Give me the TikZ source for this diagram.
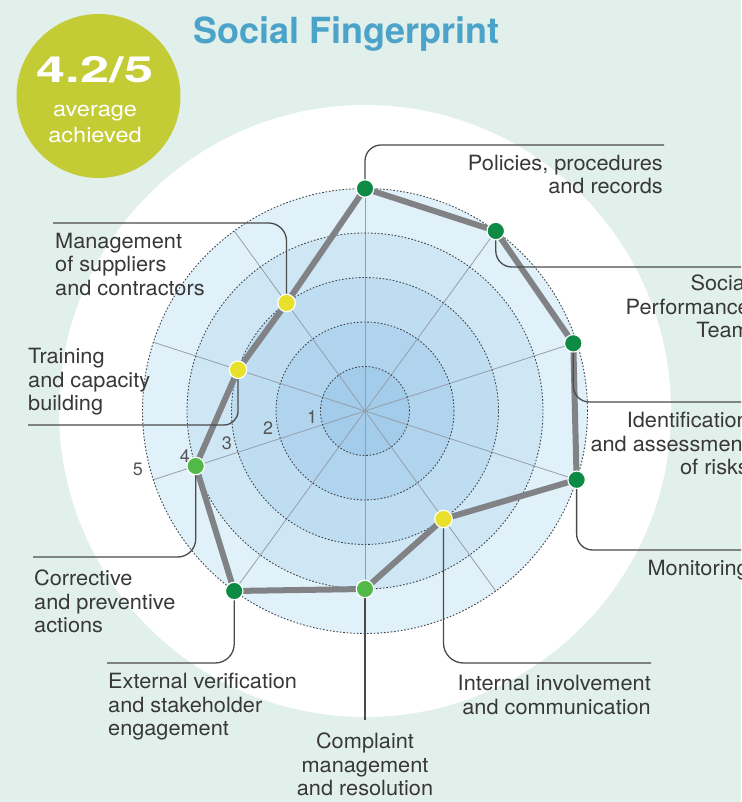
\documentclass[tikz,border=0pt]{standalone}
\usepackage{fontspec}
\usepackage{graphicx}
\setmainfont{TeX Gyre Heros}
\newfontfamily\lblfont[FakeStretch=1.035]{TeX Gyre Heros}
\usetikzlibrary{calc}
\definecolor{bgc}{HTML}{E2F0EB}
\definecolor{bandA}{HTML}{E0F1F9}
\definecolor{bandB}{HTML}{CFE6F5}
\definecolor{bandC}{HTML}{BFDDF1}
\definecolor{bandD}{HTML}{B1D4EE}
\definecolor{bandE}{HTML}{A3CBEA}
\definecolor{spokec}{HTML}{939FAA}
\definecolor{ringc}{HTML}{3F444A}
\definecolor{polyc}{HTML}{818286}
\definecolor{gdark}{HTML}{0D8A43}
\definecolor{glight}{HTML}{52B848}
\definecolor{gyel}{HTML}{E8E02A}
\definecolor{leadc}{HTML}{4A4A4A}
\definecolor{txtc}{HTML}{383838}
\definecolor{titlec}{HTML}{4BA3C9}
\definecolor{badgec}{HTML}{C3CB35}
\definecolor{numc}{HTML}{555555}
\begin{document}
\begin{tikzpicture}[x=1pt,y=1pt,
  spoke/.style={draw=spokec,line width=0.8pt},
  ringline/.style={draw=ringc,line width=0.9pt,dash pattern=on 1.6pt off 1.8pt},
  poly/.style={draw=polyc,line width=6pt,line join=round},
  mk/.style={circle,draw=white,line width=1.2pt,minimum size=17.5pt,inner sep=0pt},
  lead/.style={draw=leadc,line width=1.3pt,rounded corners=16pt},
  lbl/.style={text=txtc,inner sep=0pt,font=\lblfont\fontsize{21}{23.5}\selectfont},
  num/.style={text=numc,inner sep=0pt,font=\fontsize{18}{18}\selectfont}]
\useasboundingbox (0,0) rectangle (741,802);
\clip (0,0) rectangle (741,802);
\fill[bgc] (0,0) rectangle (741,802);
\coordinate (C) at (365,391);
\fill[white] (C) circle (306pt);
\fill[bandA] (C) circle (222.5pt);
\fill[bandB] (C) circle (178pt);
\fill[bandC] (C) circle (133.5pt);
\fill[bandD] (C) circle (89pt);
\fill[bandE] (C) circle (44.5pt);
\foreach \a in {90,54,18,-18,-54,-90,-126,-162,162,126}
  \draw[spoke] (C) -- ++(\a:222.5pt);
\foreach \r in {44.5,89,133.5,178,222.5}
  \draw[ringline] (C) circle (\r pt);
% vertices
\path (C) ++(90:222.5pt) coordinate (v1);
\path (C) ++(54:222.5pt) coordinate (v2);
\path (C) ++(18:219pt) coordinate (v3);
\path (C) ++(-18:222.5pt) coordinate (v4);
\path (C) ++(-54:133.5pt) coordinate (v5);
\path (C) ++(-90:178pt) coordinate (v6);
\path (C) ++(-126:222.5pt) coordinate (v7);
\path (C) ++(-162:178pt) coordinate (v8);
\path (C) ++(162:133.5pt) coordinate (v9);
\path (C) ++(126:133.5pt) coordinate (v10);
\draw[poly] (v1) -- (v2) -- (v3) -- (v4) -- (v5) -- (v6) -- (v7) -- (v8) -- (v9) -- (v10) -- cycle;
% markers
\node[mk,fill=gdark] (m1) at (v1) {};
\node[mk,fill=gdark] (m2) at (v2) {};
\node[mk,fill=gdark] (m3) at (v3) {};
\node[mk,fill=gdark] (m4) at (v4) {};
\node[mk,fill=gyel] (m5) at (v5) {};
\node[mk,fill=glight] (m6) at (v6) {};
\node[mk,fill=gdark] (m7) at (v7) {};
\node[mk,fill=glight] (m8) at (v8) {};
\node[mk,fill=gyel] (m9) at (v9) {};
\node[mk,fill=gyel] (m10) at (v10) {};
% connector ends
\coordinate (e1) at (664,657);
\coordinate (e2) at (760,535);
\coordinate (e3) at (760,400);
\coordinate (e4) at (760,252);
\coordinate (e5) at (651,139);
\coordinate (e6) at (365,82);
\coordinate (e7) at (107,139);
\coordinate (e8) at (33,245);
\coordinate (e9) at (28,377);
\coordinate (e10) at (53,579);
\draw[lead] (m1) |- (e1);
\draw[lead] (m2) |- (e2);
\draw[lead] (m3) |- (e3);
\draw[lead] (m4) |- (e4);
\draw[lead,rounded corners=20pt] (m5) |- (e5);
\draw[lead] (m6) -- (e6);
\draw[lead,rounded corners=19pt] (m7) |- (e7);
\draw[lead,rounded corners=18pt] (m8) |- (e8);
\draw[lead,rounded corners=14pt] (m9) |- (e9);
\draw[lead,rounded corners=18pt] (m10) |- (e10);
% labels
\node[lbl,anchor=north east,align=right] (l1) at (663,647) {Policies, procedures\\and records};
\node[lbl,anchor=north east,align=right] (l2) at (750,527) {Social\\Performance\\Team};
\node[lbl,anchor=north east,align=right] (l3) at (749,390) {Identification\\and assessment\\of risks};
\node[lbl,anchor=north east,align=right] (l4) at (749,242) {Monitoring};
\node[lbl,anchor=north east,align=right] (l5) at (651,127) {Internal involvement\\and communication};
\node[lbl,anchor=north,align=center] (l6) at (365,69) {Complaint\\management\\and resolution};
\node[lbl,anchor=north west,align=left] (l7) at (108,129) {External verification\\and stakeholder\\engagement};
\node[lbl,anchor=north west,align=left] (l8) at (34,232) {Corrective\\and preventive\\actions};
\node[lbl,anchor=north west,align=left] (l9) at (28,454) {Training\\and capacity\\building};
\node[lbl,anchor=north west,align=left] (l10) at (55,569) {Management\\of suppliers\\and contractors};
% scale numbers
\node[num] (s1) at (312,385) {1};
\node[num] (s2) at (268,374) {2};
\node[num] (s3) at (227,359) {3};
\node[num] (s4) at (185,346) {4};
\node[num] (s5) at (138,333) {5};
% title and badge
\node[anchor=base west,inner sep=0pt,text=titlec,font=\fontsize{36}{36}\selectfont\bfseries] (title) at (193,758) {Social Fingerprint};
\node[circle,fill=badgec,minimum size=164pt,inner sep=0pt] (badge) at (98.5,706) {};
\node[anchor=base,inner sep=0pt,text=white,font=\fontsize{36}{36}\selectfont\bfseries] (avg) at (95,719) {\scalebox{1.45}[1]{4.2/5}};
\node[anchor=base,inner sep=0pt,text=white,font=\fontsize{21}{21}\selectfont] (avgt1) at (95,685) {\scalebox{1.12}[1]{average}};
\node[anchor=base,inner sep=0pt,text=white,font=\fontsize{21}{21}\selectfont] (avgt2) at (95,659) {\scalebox{1.12}[1]{achieved}};
\end{tikzpicture}
\end{document}
